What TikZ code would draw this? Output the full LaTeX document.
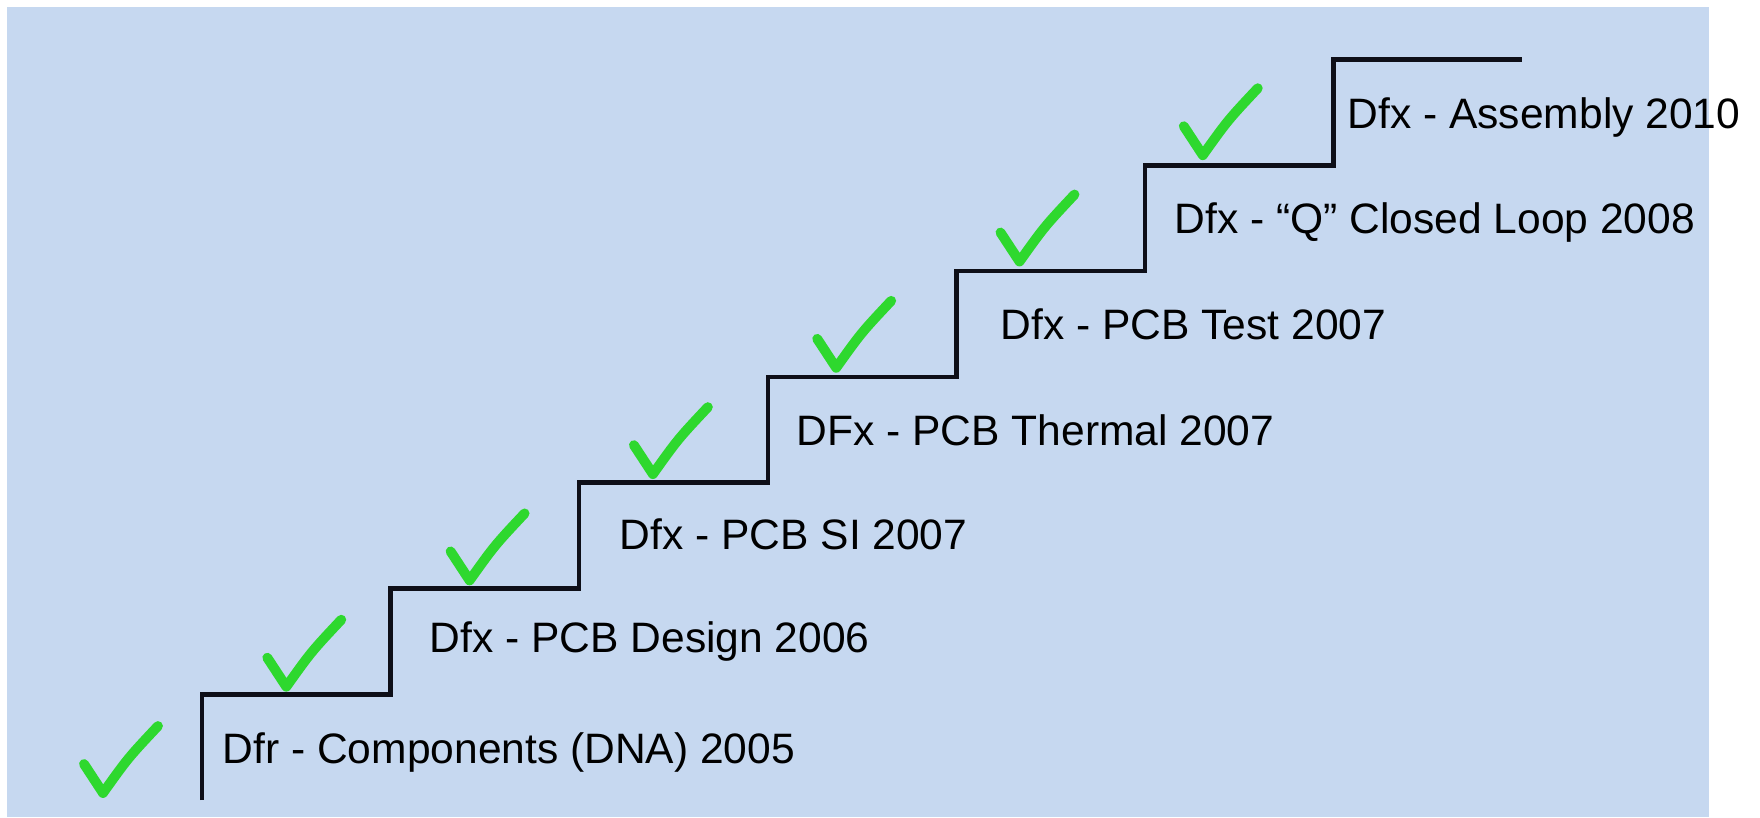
\documentclass[tikz,border=0pt]{standalone}
\usepackage{fontspec}
\setmainfont{Liberation Sans}
\usepackage{tikz}

\definecolor{slideblue}{HTML}{C6D8F0}
\definecolor{tickgreen}{HTML}{2ED82E}
\definecolor{stairblack}{HTML}{0E0F18}

\tikzset{
    stair/.style={draw=stairblack, line width=1.3pt},
    tick/.style={draw=tickgreen, line width=2.8pt, line cap=round, line join=round},
    steplabel/.style={anchor=base west, inner sep=0pt,
        font=\fontsize{12.1}{14}\selectfont}
}

\begin{document}
\begin{tikzpicture}[x=0.01cm, y=-0.01cm]
    \useasboundingbox (0,0) rectangle (1760,817);
    \fill[slideblue] (7,7) rectangle (1709,817);

    \coordinate (B) at (202,800);

    % the stairs
    \draw[stair] (B) \foreach \i in {1,...,7} {
        -- ++(0,-105.8) -- ++(188.6,0)
    };

    % ticks
    \foreach \i in {0,...,6}
        \draw[tick, shift={({103+183.3*\i},{793-106.3*\i})}]
            (-19,-29) -- (0,0) .. controls (25,-35) .. (55,-67);

    \node[steplabel] (dfr) at (222,763) {Dfr - Components (DNA) 2005};
    \node[steplabel] (design) at (429,652) {Dfx - PCB Design 2006};
    \node[steplabel] (si) at (619,549) {Dfx - PCB SI 2007};
    \node[steplabel] (thermal) at (796,445) {DFx - PCB Thermal 2007};
    \node[steplabel] (test) at (1000,339) {Dfx - PCB Test 2007};
    \node[steplabel] (loop) at (1174,233) {Dfx - “Q” Closed Loop 2008};
    \node[steplabel] (assembly) at (1347,128) {Dfx - Assembly 2010};
\end{tikzpicture}
\end{document}
